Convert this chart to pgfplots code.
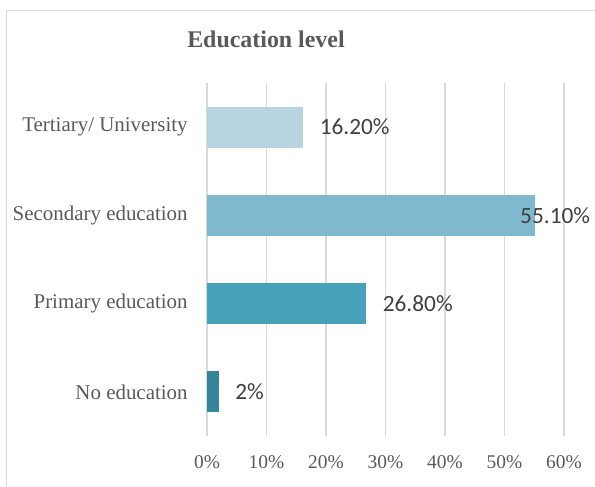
\documentclass[border=0pt]{standalone}
\usepackage{fontspec}
\setmainfont{Liberation Serif}
\newfontfamily\calibri{Carlito}
\usepackage{pgfplots}
\pgfplotsset{compat=1.18}
\definecolor{gridgray}{RGB}{217,217,217}
\definecolor{txtgray}{RGB}{89,89,89}
\definecolor{lbl}{RGB}{64,64,64}
\definecolor{tert}{RGB}{183,213,224}
\definecolor{sec}{RGB}{126,185,207}
\definecolor{prim}{RGB}{72,161,186}
\definecolor{noedu}{RGB}{53,134,154}
\begin{document}
\begin{tikzpicture}[x=1bp,y=1bp]
\useasboundingbox (0,0) rectangle (297.5,243.5);
% chart frame (only left and top edges are in view)
\draw[gridgray, line width=0.75bp] (3.25,0) -- (3.25,238.25) -- (297.5,238.25);
\node[font=\fontsize{12}{14}\selectfont\bfseries, text=txtgray] at (133,224) {Education level};
\begin{axis}[
  at={(103.5bp,25.5bp)}, anchor=south west,
  scale only axis, width=178.5bp, height=176.5bp,
  xbar, bar shift=0pt, bar width=20.5bp,
  xmin=0, xmax=60, ymin=-0.5, ymax=3.5,
  xtick={0,10,...,60},
  xticklabels={0\%,10\%,20\%,30\%,40\%,50\%,60\%},
  ytick={0,1,2,3},
  yticklabels={No education, Primary education, Secondary education, Tertiary/ University},
  xmajorgrids, grid style={gridgray, line width=0.75bp},
  axis line style={draw=none}, major tick length=0pt,
  tick label style={text=txtgray, inner sep=0pt},
  xticklabel style={font=\fontsize{9.75}{11}\selectfont, yshift=-9.8bp},
  yticklabel style={font=\fontsize{10.5}{12}\selectfont, xshift=-9.5bp},
  every node near coord/.append style={font=\calibri\fontsize{11.7}{14}\selectfont, text=lbl, inner sep=0pt, anchor=west},
  clip=false,
]
\addplot[fill=noedu, draw=none, nodes near coords={2\%},
  every node near coord/.append style={xshift=8bp}] coordinates {(2,0)};
\addplot[fill=prim, draw=none, nodes near coords={26.80\%},
  every node near coord/.append style={xshift=8bp}] coordinates {(26.8,1)};
\addplot[fill=sec, draw=none, nodes near coords={55.10\%},
  every node near coord/.append style={xshift=-7.5bp}] coordinates {(55.1,2)};
\addplot[fill=tert, draw=none, nodes near coords={16.20\%},
  every node near coord/.append style={xshift=8bp}] coordinates {(16.2,3)};
\end{axis}
\end{tikzpicture}
\end{document}
